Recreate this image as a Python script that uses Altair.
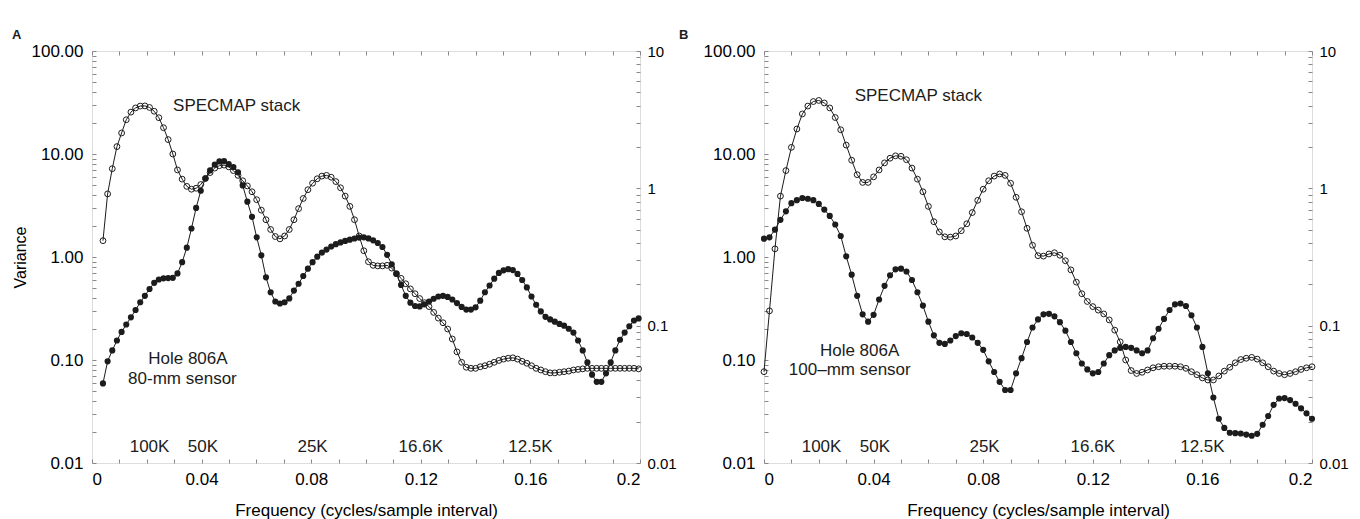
import altair as alt
import pandas as pd

INK = "#1c1c1c"
FONT = "Liberation Sans"

# ---------------- data ----------------
# Panel A: frequency grid (cycles/sample interval)
fa_start, fa_step, fa_n = 0.004, 0.0017, 116
freq_a = [round(fa_start + fa_step * i, 5) for i in range(fa_n)]
specmap_a = [1.44, 4.1, 7.2, 11.8, 16.0, 21.5, 25.5, 28.0, 29.2, 29.3,
             28.3, 26.0, 22.5, 18.0, 13.8, 10.0, 7.0, 5.7, 4.85, 4.55,
             4.65, 5.05, 5.8, 6.6, 7.3, 7.7, 7.8, 7.5, 6.9, 6.2,
             5.5, 4.9, 4.3, 3.6, 2.85, 2.3, 1.85, 1.58, 1.5, 1.6,
             1.85, 2.3, 2.95, 3.7, 4.5, 5.2, 5.75, 6.1, 6.2, 5.95,
             5.4, 4.7, 3.9, 3.1, 2.3, 1.6, 1.15, 0.9, 0.83, 0.82,
             0.82, 0.83, 0.78, 0.69, 0.62, 0.55, 0.49, 0.44, 0.395, 0.36,
             0.33, 0.29, 0.255, 0.23, 0.2, 0.16, 0.12, 0.095, 0.085, 0.083,
             0.083, 0.086, 0.088, 0.091, 0.095, 0.099, 0.102, 0.104, 0.105, 0.102,
             0.097, 0.093, 0.088, 0.083, 0.08, 0.077, 0.075, 0.075, 0.076, 0.077,
             0.078, 0.08, 0.081, 0.082, 0.083, 0.083, 0.083, 0.083, 0.083, 0.083,
             0.083, 0.083, 0.083, 0.083, 0.083, 0.082]
hole_a = [0.038, 0.055, 0.066, 0.078, 0.09, 0.102, 0.115, 0.13, 0.148, 0.165,
          0.185, 0.205, 0.217, 0.221, 0.222, 0.223, 0.24, 0.29, 0.37, 0.51,
          0.72, 0.96, 1.18, 1.35, 1.49, 1.57, 1.58, 1.5, 1.43, 1.31,
          1.05, 0.8, 0.62, 0.44, 0.325, 0.225, 0.175, 0.15, 0.145, 0.148,
          0.158, 0.18, 0.202, 0.23, 0.26, 0.29, 0.318, 0.34, 0.358, 0.377,
          0.392, 0.404, 0.414, 0.423, 0.431, 0.438, 0.44, 0.432, 0.418, 0.4,
          0.374, 0.328, 0.28, 0.238, 0.198, 0.165, 0.147, 0.139, 0.138, 0.143,
          0.15, 0.157, 0.163, 0.165, 0.162, 0.155, 0.146, 0.137, 0.131, 0.131,
          0.136, 0.152, 0.175, 0.196, 0.22, 0.242, 0.253, 0.258, 0.254, 0.238,
          0.215, 0.19, 0.163, 0.142, 0.127, 0.116, 0.111, 0.107, 0.103, 0.1,
          0.095, 0.089, 0.078, 0.066, 0.054, 0.044, 0.039, 0.039, 0.045, 0.054,
          0.066, 0.079, 0.089, 0.099, 0.109, 0.113]

# Panel B
fb_start, fb_step, fb_n = 0.0, 0.002, 101
freq_b = [round(fb_start + fb_step * i, 5) for i in range(fb_n)]
specmap_b = [0.077, 0.3, 1.2, 3.9, 6.9, 11.6, 17.5, 24.5, 29.2, 32.3,
             33.1, 31.3, 28.0, 22.6, 17.2, 12.2, 8.7, 6.3, 5.3, 5.3,
             6.0, 7.0, 8.2, 9.1, 9.6, 9.5, 8.8, 7.3, 5.7, 4.3,
             3.1, 2.2, 1.75, 1.57, 1.56, 1.6, 1.8, 2.1, 2.7, 3.55,
             4.55, 5.5, 6.1, 6.4, 6.2, 5.2, 3.8, 2.75, 1.9, 1.3,
             1.03, 1.02, 1.07, 1.1, 1.04, 0.92, 0.75, 0.57, 0.44, 0.37,
             0.33, 0.305, 0.28, 0.245, 0.195, 0.15, 0.1, 0.079, 0.074, 0.076,
             0.08, 0.084, 0.086, 0.087, 0.087, 0.087, 0.086, 0.083, 0.077, 0.072,
             0.067, 0.064, 0.064, 0.07, 0.078, 0.085, 0.094, 0.101, 0.104, 0.106,
             0.102, 0.094, 0.086, 0.078, 0.074, 0.072, 0.074, 0.077, 0.081, 0.084,
             0.086]
hole_b = [0.43, 0.44, 0.5, 0.59, 0.68, 0.78, 0.82, 0.85, 0.84, 0.82,
          0.77, 0.7, 0.63, 0.545, 0.45, 0.32, 0.235, 0.165, 0.121, 0.107,
          0.12, 0.155, 0.195, 0.233, 0.257, 0.26, 0.248, 0.215, 0.175, 0.14,
          0.107, 0.085, 0.075, 0.0736, 0.078, 0.084, 0.088, 0.087, 0.082, 0.075,
          0.0667, 0.055, 0.046, 0.039, 0.034, 0.034, 0.045, 0.058, 0.076, 0.097,
          0.111, 0.121, 0.122, 0.117, 0.106, 0.092, 0.076, 0.063, 0.053, 0.048,
          0.045, 0.046, 0.053, 0.061, 0.066, 0.069, 0.07, 0.069, 0.066, 0.063,
          0.066, 0.081, 0.095, 0.112, 0.13, 0.143, 0.145, 0.139, 0.119, 0.097,
          0.07, 0.045, 0.03, 0.021, 0.018, 0.0166, 0.0165, 0.0164, 0.0161, 0.0158,
          0.0163, 0.019, 0.022, 0.0265, 0.0295, 0.0297, 0.0287, 0.027, 0.025, 0.023,
          0.021]

# Annotations (x in frequency, y in left-axis variance units)
period_labels = ["100K", "50K", "25K", "16.6K", "12.5K"]
period_x = [0.021, 0.0405, 0.0805, 0.12, 0.16]
period_y = 0.0142

notes_a_text = ["SPECMAP stack", "Hole 806A", "80-mm sensor"]
notes_a_x = [0.0528, 0.035, 0.033]
notes_a_y = [29.3, 0.102, 0.0655]
notes_b_text = ["SPECMAP stack", "Hole 806A", "100\u2013mm sensor"]
notes_b_x = [0.0563, 0.0349, 0.0313]
notes_b_y = [36.5, 0.1236, 0.0794]

x_major = [0, 0.04, 0.08, 0.12, 0.16, 0.2]
x_minor = [round(0.01 * i, 2) for i in range(21)]
yl_major = [0.01, 0.1, 1, 10, 100]
yr_major = [0.01, 0.1, 1, 10]
yl_minor = [round(k * 10 ** e, 4) for e in range(-2, 2) for k in range(1, 10)] + [100]
yr_minor = [round(k * 10 ** e, 4) for e in range(-2, 1) for k in range(1, 10)] + [10]

W, H = 548, 412


def panel(freqs, spec, hole, ntext, nx, ny, title, ytitle, tdx):
    df_s = pd.DataFrame({"f": freqs, "v": spec})
    df_h = pd.DataFrame({"f": freqs, "v": hole})
    df_t = pd.DataFrame({
        "f": nx + period_x,
        "v": ny + [period_y] * len(period_x),
        "label": ntext + period_labels,
    })
    xs = alt.Scale(domain=[0, 0.2], nice=False, zero=False)
    ysl = alt.Scale(type="log", domain=[0.01, 100], nice=False)
    ysr = alt.Scale(type="log", domain=[0.01, 10], nice=False)

    ax_x_labels = alt.Axis(orient="bottom", values=x_major,
                           labelExpr="toString(round(datum.value*100)/100)",
                           ticks=False, domain=False, grid=False,
                           labelPadding=8, labelFontSize=17,
                           title="Frequency (cycles/sample interval)",
                           titleFontSize=17, titleFontWeight="normal", titlePadding=15)
    ax_x_bottom_ticks = alt.Axis(orient="top", offset=-H, values=x_minor, labels=False,
                                 domain=False, grid=False, tickSize=4, title=None)
    ax_x_top_ticks = alt.Axis(orient="bottom", offset=-H, values=x_minor, labels=False,
                              domain=False, grid=False, tickSize=4, title=None)
    ax_yl_labels = alt.Axis(orient="left", values=yl_major,
                            labelExpr="format(datum.value, '.2f')",
                            ticks=False, domain=False, grid=False,
                            labelPadding=9, labelFontSize=17,
                            title=ytitle, titleFontSize=16, titleFontWeight="normal",
                            titlePadding=3)
    ax_yl_ticks = alt.Axis(orient="right", offset=-W, values=yl_minor, labels=False,
                           domain=False, grid=False, tickSize=4, title=None)
    ax_yr_labels = alt.Axis(orient="right", values=yr_major,
                            labelExpr="toString(datum.value)",
                            ticks=False, domain=False, grid=False,
                            labelPadding=7, labelFontSize=15, title=None)
    ax_yr_ticks = alt.Axis(orient="left", offset=-W, values=yr_minor, labels=False,
                           domain=False, grid=False, tickSize=4, title=None)

    spec_line = alt.Chart(df_s).mark_line(color=INK, strokeWidth=1).encode(
        x=alt.X("f:Q", scale=xs, axis=ax_x_labels),
        y=alt.Y("v:Q", scale=ysl, axis=ax_yl_labels),
    )
    spec_pts = alt.Chart(df_s).mark_point(shape="circle", filled=False, size=34,
                                          color=INK, strokeWidth=1, opacity=1).encode(
        x=alt.X("f:Q", scale=xs, axis=ax_x_bottom_ticks),
        y=alt.Y("v:Q", scale=ysl, axis=ax_yl_ticks),
    )
    hole_line = alt.Chart(df_h).mark_line(color=INK, strokeWidth=1).encode(
        x=alt.X("f:Q", scale=xs, axis=ax_x_top_ticks),
        y=alt.Y("v:Q", scale=ysr, axis=ax_yr_labels),
    )
    hole_pts = alt.Chart(df_h).mark_circle(size=38, color=INK, opacity=1).encode(
        x=alt.X("f:Q", scale=xs, axis=None),
        y=alt.Y("v:Q", scale=ysr, axis=ax_yr_ticks),
    )
    notes = alt.Chart(df_t).mark_text(font=FONT, fontSize=17, color=INK,
                                      align="center", baseline="middle").encode(
        x=alt.X("f:Q", scale=xs, axis=None),
        y=alt.Y("v:Q", scale=ysl, axis=None),
        text="label:N",
    )
    return alt.layer(spec_line, spec_pts, hole_line, hole_pts, notes).resolve_scale(
        y="independent"
    ).resolve_axis(x="independent", y="independent").properties(
        width=W, height=H,
        title=alt.TitleParams(title, anchor="start", fontSize=13, fontWeight="bold",
                              font=FONT, color=INK, offset=0, dx=tdx),
    )


pa = panel(freq_a, specmap_a, hole_a, notes_a_text, notes_a_x, notes_a_y, "A", "Variance", 0)
pb = panel(freq_b, specmap_b, hole_b, notes_b_text, notes_b_x, notes_b_y, "B", None, -24)

chart = alt.hconcat(pa, pb, spacing=1).properties(
    padding={"left": 3, "right": 0, "top": 20, "bottom": 0}
).configure_view(
    stroke=INK, strokeWidth=1.7
).configure_axis(
    labelFont=FONT, titleFont=FONT, labelColor=INK, titleColor=INK,
    tickColor=INK, tickWidth=1
).configure(background="white")

chart.save("out.html", embed_options={"renderer": "svg", "actions": False})
